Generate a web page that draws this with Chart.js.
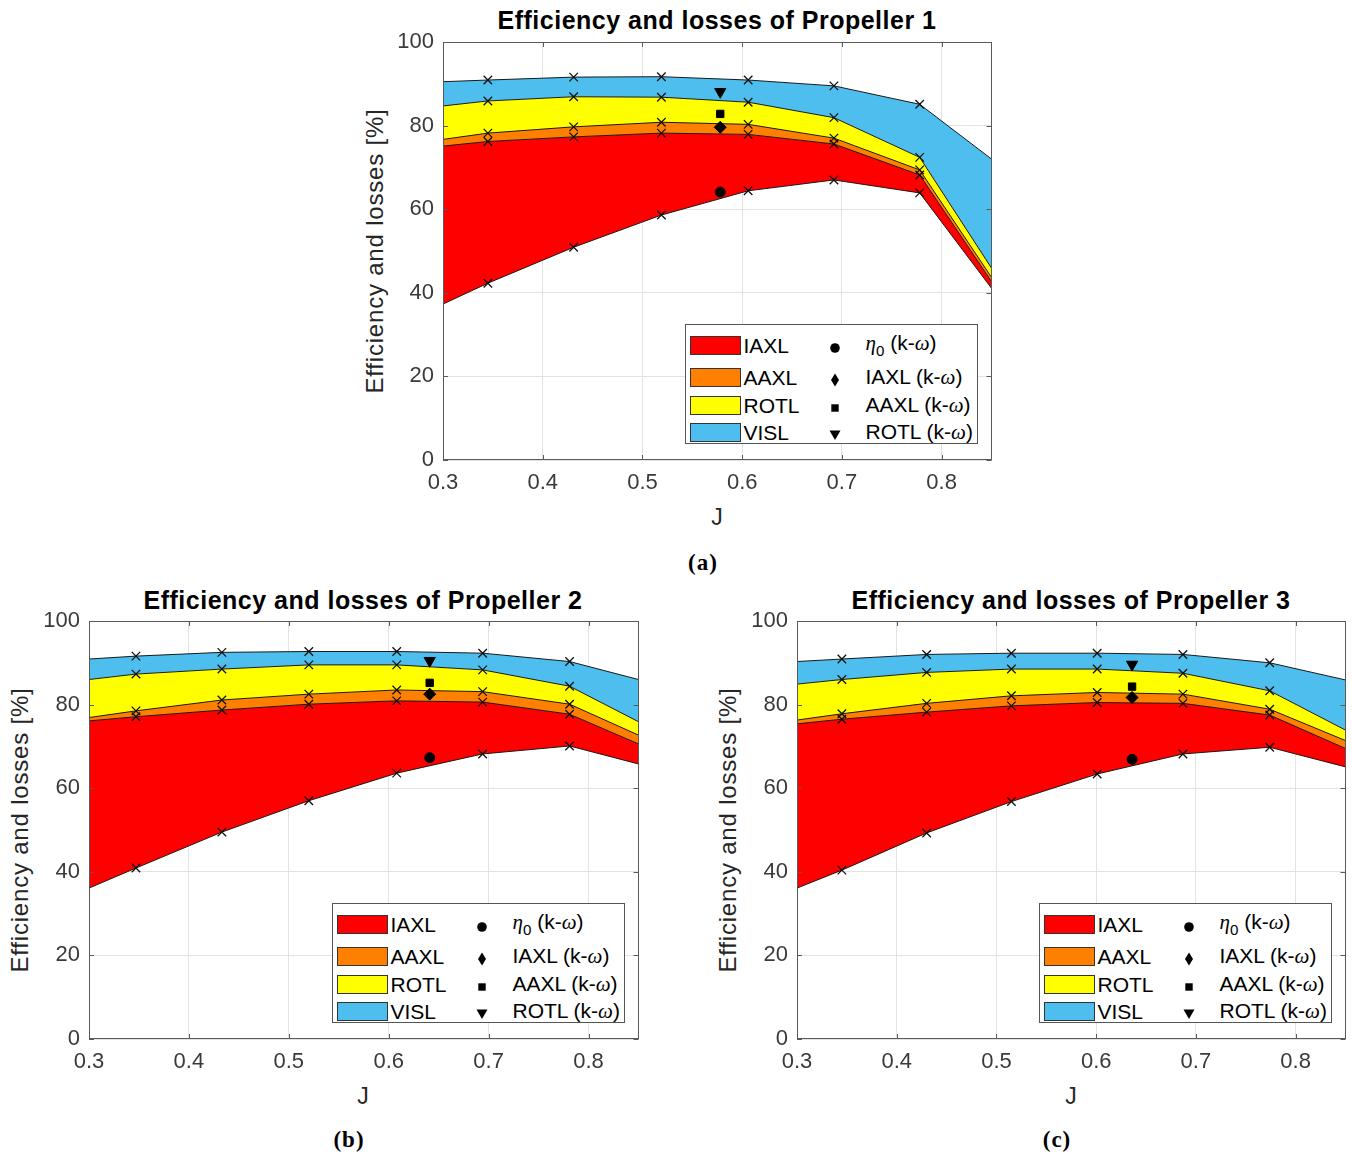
<!DOCTYPE html>
<html>
<head>
<meta charset="utf-8">
<script src="https://cdn.jsdelivr.net/npm/chart.js@4.4.1/dist/chart.umd.min.js"></script>
<style>
body { margin: 0; width: 1352px; height: 1160px; background: #fff; position: relative; overflow: hidden;
       font-family: "Liberation Sans", Arial, sans-serif; color: #262626; }
.txt { position: absolute; white-space: nowrap; transform: translate(-50%, -50%); }
.title { font-weight: bold; font-size: 25px; letter-spacing: 0.5px; color: #000; }
.ylab { font-size: 24px; letter-spacing: 0.8px; transform: translate(-50%, -50%) rotate(-90deg); }
.xlab { font-size: 23px; }
.cap { font-family: "Liberation Serif", serif; font-weight: bold; font-size: 23px; letter-spacing: 1px; color: #000; }
canvas { position: absolute; }
.legend { position: absolute; width: 293px; height: 120px; border: 1px solid #555; background: #fff;
          box-sizing: border-box; font-size: 21px; color: #000; }
.legend .sw { position: absolute; left: 4px; width: 51px; height: 19px; border: 1px solid #333; box-sizing: border-box; }
.legend .lb { position: absolute; left: 58px; transform: translateY(-50%); line-height: 1; }
.legend .mk { position: absolute; left: 141px; width: 16px; height: 16px; transform: translateY(-50%); }
.legend .kl { position: absolute; left: 180px; transform: translateY(-50%); line-height: 1; }
.legend i { font-family: "Liberation Serif", serif; }
.legend sub { font-size: 72%; vertical-align: -0.35em; font-family: "Liberation Sans", Arial, sans-serif; }
</style>
</head>
<body>

<div class="txt title" style="left:717px;top:20px">Efficiency and losses of Propeller 1</div>
<div class="txt ylab" style="left:375px;top:251px">Efficiency and losses [%]</div>
<div class="txt xlab" style="left:717px;top:517px">J</div>
<div class="txt cap" style="left:703px;top:563px">(a)</div>
<canvas id="chart1" width="639" height="470" style="left:360px;top:30px"></canvas>
<div class="legend" id="legend1"></div>

<div class="txt title" style="left:363px;top:600px">Efficiency and losses of Propeller 2</div>
<div class="txt ylab" style="left:20px;top:830px">Efficiency and losses [%]</div>
<div class="txt xlab" style="left:363px;top:1096px">J</div>
<div class="txt cap" style="left:349px;top:1140px">(b)</div>
<canvas id="chart2" width="640" height="470" style="left:6px;top:609px"></canvas>
<div class="legend" id="legend2"></div>

<div class="txt title" style="left:1071px;top:600px">Efficiency and losses of Propeller 3</div>
<div class="txt ylab" style="left:728px;top:830px">Efficiency and losses [%]</div>
<div class="txt xlab" style="left:1071px;top:1096px">J</div>
<div class="txt cap" style="left:1057px;top:1140px">(c)</div>
<canvas id="chart3" width="639" height="470" style="left:714px;top:609px"></canvas>
<div class="legend" id="legend3"></div>

<script>
const jTicks = [0.3, 0.4, 0.5, 0.6, 0.7, 0.8];
const yTicks = [0, 20, 40, 60, 80, 100];
const bandNames = ["IAXL", "AAXL", "ROTL", "VISL"];
const bandColors = ["#ff0000", "#ff8000", "#ffff00", "#4dbeee"];
const kwNames = ["η0 (k-ω)", "IAXL (k-ω)", "AAXL (k-ω)", "ROTL (k-ω)"];
const kwStyles = ["circle", "rectRot", "rect", "triangle"];
const kwRadius = [5, 6, 5.2, 6.5];

// Propeller 1 (upper edge of each band, %)
const p1J    = [0.3, 0.345, 0.431, 0.519, 0.606, 0.692, 0.778, 0.85];
const p1Eta  = [37.3, 42.3, 50.9, 58.6, 64.4, 67.0, 63.9, 41.1];
const p1Iaxl = [75.1, 76.2, 77.3, 78.2, 77.9, 75.6, 68.2, 42.7];
const p1Aaxl = [76.7, 78.2, 79.7, 80.8, 80.3, 77.0, 69.4, 43.7];
const p1Rotl = [84.7, 85.9, 86.9, 86.8, 85.6, 81.9, 72.4, 45.9];
const p1Visl = [90.5, 90.9, 91.6, 91.7, 90.9, 89.5, 85.1, 72.0];
const p1KwJ = 0.578;
const p1Kw  = [64.1, 79.6, 82.8, 88.1];

// Propeller 2
const p2J    = [0.3, 0.347, 0.433, 0.520, 0.608, 0.694, 0.781, 0.85];
const p2Eta  = [36.1, 40.9, 49.5, 57.0, 63.6, 68.2, 70.1, 65.8];
const p2Iaxl = [76.1, 77.1, 78.7, 80.1, 80.9, 80.6, 77.7, 70.6];
const p2Aaxl = [76.9, 78.5, 81.1, 82.5, 83.5, 83.1, 80.1, 72.7];
const p2Rotl = [86.0, 87.3, 88.5, 89.5, 89.5, 88.3, 84.4, 75.9];
const p2Visl = [90.9, 91.6, 92.5, 92.7, 92.7, 92.3, 90.3, 86.0];
const p2KwJ = 0.641;
const p2Kw  = [67.3, 82.5, 85.2, 90.5];

// Propeller 3
const p3J    = [0.3, 0.345, 0.430, 0.515, 0.601, 0.687, 0.774, 0.85];
const p3Eta  = [36.1, 40.4, 49.3, 56.8, 63.4, 68.2, 69.8, 65.1];
const p3Iaxl = [75.4, 76.5, 78.2, 79.7, 80.5, 80.3, 77.5, 69.5];
const p3Aaxl = [76.3, 77.8, 80.3, 82.1, 82.9, 82.5, 78.9, 71.4];
const p3Rotl = [84.9, 86.0, 87.7, 88.5, 88.5, 87.5, 83.3, 73.9];
const p3Visl = [90.3, 90.9, 92.0, 92.3, 92.3, 92.0, 90.0, 85.9];
const p3KwJ = 0.636;
const p3Kw  = [66.9, 81.7, 84.3, 89.6];

// matlab style box + inward ticks
const axesBox = {
    id: "axesBox",
    afterDraw(chart) {
        const { ctx, chartArea: a, scales } = chart;
        ctx.save();
        ctx.strokeStyle = "#5a5a5a";
        ctx.lineWidth = 1;
        ctx.strokeRect(Math.round(a.left) + 0.5, Math.round(a.top) + 0.5, Math.round(a.width) - 1, Math.round(a.height) - 1);
        ctx.beginPath();
        scales.x.ticks.forEach(t => {
            let px = Math.round(scales.x.getPixelForValue(t.value)) + 0.5;
            ctx.moveTo(px, a.bottom); ctx.lineTo(px, a.bottom - 5);
            ctx.moveTo(px, a.top); ctx.lineTo(px, a.top + 5);
        });
        scales.y.ticks.forEach(t => {
            let py = Math.round(scales.y.getPixelForValue(t.value)) + 0.5;
            ctx.moveTo(a.left, py); ctx.lineTo(a.left + 5, py);
            ctx.moveTo(a.right, py); ctx.lineTo(a.right - 5, py);
        });
        ctx.stroke();
        ctx.restore();
    }
};

function markerSvg(style) {
    let shape = "";
    switch (style) {
        case "circle": shape = '<circle cx="8" cy="8" r="4.8"/>'; break;
        case "rectRot": shape = '<polygon points="8,1.5 12,8 8,14.5 4,8"/>'; break;
        case "rect": shape = '<rect x="4.3" y="4.3" width="7.4" height="7.4"/>'; break;
        case "triangle": shape = '<polygon points="2.5,3.5 13.5,3.5 8,13"/>'; break;
    }
    return '<svg width="16" height="16" viewBox="0 0 16 16" fill="#000">' + shape + "</svg>";
}

function fmtLabel(s) {
    return s.replace("η0", '<i>η</i><sub>0</sub>').replace("ω", "<i>ω</i>");
}

function buildLegend(chart, el) {
    const rowY = [20, 52, 80, 107];
    const ca = chart.chartArea;
    const cv = chart.canvas;
    el.style.left = (cv.offsetLeft + ca.right - 14 - 293) + "px";
    el.style.top = (cv.offsetTop + ca.bottom - 16 - 120) + "px";
    let html = "";
    let ds = chart.data.datasets;
    for (let i = 1; i <= 4; i++) {
        html += `<div class="sw" style="top:${rowY[i - 1] - 9.5}px;background:${ds[i].backgroundColor}"></div>`;
        html += `<div class="lb" style="top:${rowY[i - 1]}px">${ds[i].label}</div>`;
    }
    for (let i = 5; i < ds.length; i++) {
        html += `<div class="mk" style="top:${rowY[i - 5]}px">${markerSvg(ds[i].pointStyle)}</div>`;
        html += `<div class="kl" style="top:${rowY[i - 5]}px">${fmtLabel(ds[i].label)}</div>`;
    }
    el.innerHTML = html;
}

function noPad(axis) {
    axis.paddingTop = 0;
    axis.paddingBottom = 0;
    axis.paddingLeft = 0;
    axis.paddingRight = 0;
}

function makeChart(canvasId, legendId, J, eta, iaxl, aaxl, rotl, visl, kwJ, kwVals) {
    const toPts = vals => vals.map((v, i) => ({ x: J[i], y: v }));
    const radii = J.map((v, i) => (i == 0 || i == J.length - 1) ? 0 : 6);
    const lines = [eta, iaxl, aaxl, rotl, visl];

    let datasets = lines.map((vals, k) => ({
        label: k == 0 ? "eta" : bandNames[k - 1],
        data: toPts(vals),
        borderColor: "#1a1a1a",
        borderWidth: 1,
        backgroundColor: k == 0 ? "transparent" : bandColors[k - 1],
        fill: k == 0 ? false : "-1",
        pointStyle: "crossRot",
        pointRadius: radii,
        pointBorderColor: "#111",
        pointBorderWidth: 1.3,
        tension: 0
    }));

    kwVals.forEach((v, k) => {
        datasets.push({
            type: "scatter",
            label: kwNames[k],
            data: [{ x: kwJ, y: v }],
            pointStyle: kwStyles[k],
            pointRadius: kwRadius[k],
            pointRotation: k == 3 ? 180 : 0,
            backgroundColor: "#000",
            borderColor: "#000",
            order: -1
        });
    });

    let chart = new Chart(document.getElementById(canvasId), {
        type: "line",
        data: { datasets: datasets },
        options: {
            responsive: false,
            animation: false,
            devicePixelRatio: 1,
            layout: { padding: { top: 12, right: 5, left: 0, bottom: 0 } },
            plugins: { legend: { display: false }, tooltip: { enabled: false } },
            scales: {
                x: {
                    type: "linear", min: 0.3, max: 0.85,
                    afterBuildTicks: axis => { axis.ticks = jTicks.map(v => ({ value: v })); },
                    afterFit: axis => { axis.height = 40; noPad(axis); },
                    grid: { color: "#e3e3e3", drawTicks: false },
                    border: { display: false },
                    ticks: { padding: 10, color: "#3a3a3a", font: { family: "Liberation Sans", size: 22 },
                             callback: v => v.toFixed(1) }
                },
                y: {
                    min: 0, max: 100,
                    afterBuildTicks: axis => { axis.ticks = yTicks.map(v => ({ value: v })); },
                    afterFit: axis => { axis.width = 83; noPad(axis); },
                    grid: { color: "#e3e3e3", drawTicks: false },
                    border: { display: false },
                    ticks: { padding: 9, color: "#3a3a3a", font: { family: "Liberation Sans", size: 22 } }
                }
            }
        },
        plugins: [axesBox]
    });

    buildLegend(chart, document.getElementById(legendId));
    return chart;
}

makeChart("chart1", "legend1", p1J, p1Eta, p1Iaxl, p1Aaxl, p1Rotl, p1Visl, p1KwJ, p1Kw);
makeChart("chart2", "legend2", p2J, p2Eta, p2Iaxl, p2Aaxl, p2Rotl, p2Visl, p2KwJ, p2Kw);
makeChart("chart3", "legend3", p3J, p3Eta, p3Iaxl, p3Aaxl, p3Rotl, p3Visl, p3KwJ, p3Kw);
</script>
</body>
</html>
